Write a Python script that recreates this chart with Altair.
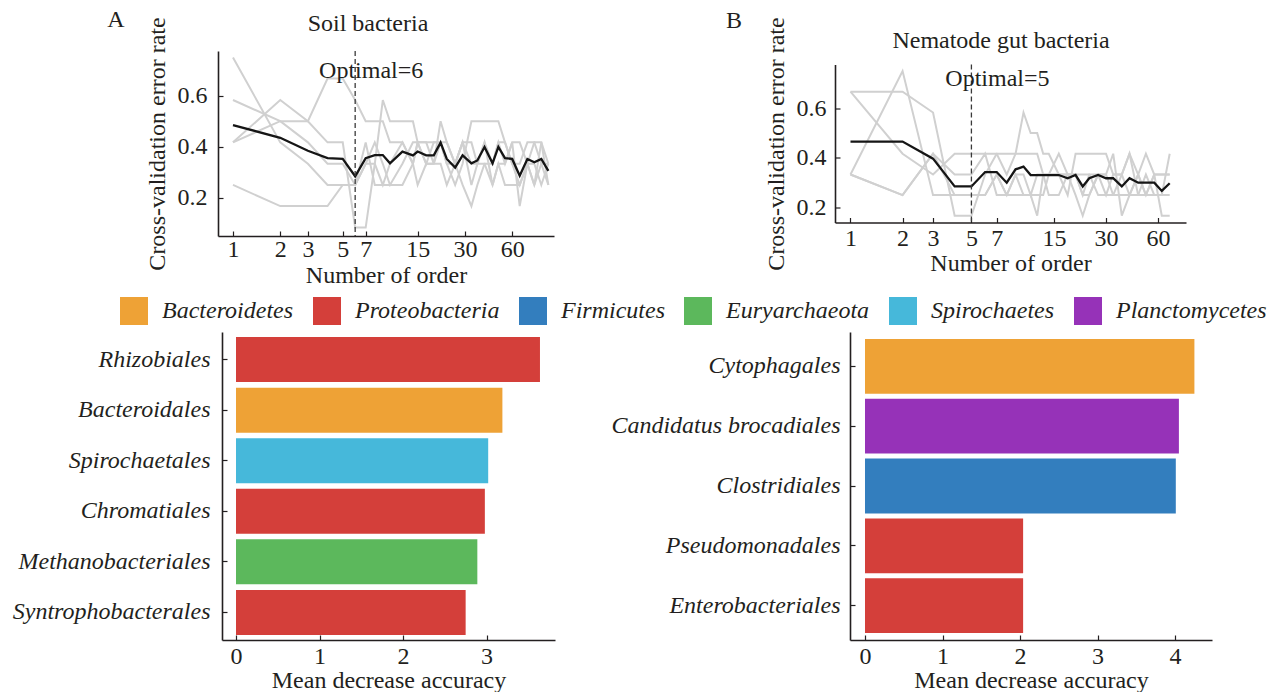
import altair as alt
import pandas as pd

FONT = "Liberation Serif"
INK = "#231f20"

# ---------------- Panel A: soil bacteria (rfcv curves) ----------------
a_order = [1, 2, 3, 4, 5, 6, 7, 8, 9, 10, 12, 14, 15, 17, 19, 21, 23, 26, 29, 33,
           36, 40, 45, 49, 54, 60, 67, 75, 83, 92, 102]
a_mean = [0.485, 0.435, 0.384, 0.355, 0.352, 0.284, 0.355, 0.367, 0.367, 0.335,
          0.381, 0.366, 0.381, 0.366, 0.366, 0.416, 0.352, 0.318, 0.366, 0.335,
          0.346, 0.399, 0.335, 0.399, 0.355, 0.352, 0.286, 0.352, 0.339, 0.352, 0.305]
a_run1 = [.75, .417, .333, .25, .25, .25, .333, .333, .25, .333, .417, .333, .417, .333,
          .417, .417, .417, .333, .417, .417, .333, .417, .333, .417, .417, .333, .25,
          .333, .417, .417, .25]
a_run2 = [.583, .5, .417, .333, .333, .25, .333, .417, .333, .25, .333, .417, .417, .417,
          .333, .5, .417, .333, .25, .167, .25, .333, .333, .417, .333, .417, .167, .333,
          .25, .333, .333]
a_run3 = [.417, .583, .5, .417, .417, .083, .083, .333, .583, .5, .5, .5, .417, .417,
          .417, .417, .333, .25, .333, .5, .5, .5, .5, .5, .417, .333, .333, .417, .417,
          .333, .25]
a_run4 = [.417, .5, .5, .667, .667, .583, .5, .5, .5, .417, .417, .333, .25, .333, .333,
          .417, .333, .333, .417, .25, .333, .417, .25, .333, .333, .417, .417, .333, .25,
          .417, .333]
a_run5 = [.25, .167, .167, .167, .25, .25, .417, .25, .25, .25, .25, .333, .417, .333,
          .333, .333, .25, .333, .417, .333, .333, .333, .25, .333, .25, .25, .25, .333,
          .333, .25, .333]
a_optimal = 6

# ---------------- Panel B: nematode gut bacteria ----------------
b_order = [1, 2, 3, 4, 5, 6, 7, 8, 9, 10, 11, 12, 13, 14, 16, 18, 20, 22, 24, 27, 30,
           33, 37, 41, 46, 51, 57, 63, 70]
b_mean = [0.466, 0.466, 0.397, 0.285, 0.285, 0.343, 0.343, 0.300, 0.354, 0.365, 0.331,
          0.331, 0.331, 0.331, 0.331, 0.318, 0.331, 0.285, 0.318, 0.331, 0.318, 0.318,
          0.285, 0.318, 0.300, 0.300, 0.300, 0.267, 0.298]
b_run1 = [.667, .667, .583, .167, .167, .333, .417, .417, .417, .583, .5, .5, .417, .417,
          .333, .25, .417, .417, .417, .417, .417, .333, .333, .417, .333, .25, .25, .25, .25]
b_run2 = [.333, .75, .25, .25, .25, .25, .333, .25, .25, .25, .25, .25, .25, .333, .417,
          .333, .25, .167, .25, .333, .333, .417, .167, .25, .333, .417, .333, .167, .167]
b_run3 = [.667, .417, .333, .417, .417, .417, .417, .333, .417, .417, .417, .417, .333,
          .25, .25, .333, .333, .333, .333, .25, .25, .25, .333, .417, .25, .25, .333,
          .333, .333]
b_run4 = [.333, .25, .417, .333, .333, .417, .25, .25, .333, .333, .25, .333, .333, .333,
          .333, .333, .333, .25, .333, .333, .25, .333, .333, .25, .25, .333, .25, .25, .417]
b_run5 = [.333, .25, .417, .25, .25, .25, .333, .25, .333, .25, .25, .167, .333, .333,
          .333, .333, .333, .25, .25, .333, .333, .25, .25, .25, .333, .25, .333, .333, .333]
b_optimal = 5

x_tick_values = [1, 2, 3, 5, 7, 15, 30, 60]
y_tick_values = [0.2, 0.4, 0.6]

# ---------------- Bar panels ----------------
phyla = ["Bacteroidetes", "Proteobacteria", "Firmicutes", "Euryarchaeota",
         "Spirochaetes", "Planctomycetes"]
phyla_colors = ["#eea236", "#d43f3a", "#337ebe", "#5cb85c", "#46b8da", "#9632b8"]

soil_orders = ["Rhizobiales", "Bacteroidales", "Spirochaetales", "Chromatiales",
               "Methanobacteriales", "Syntrophobacterales"]
soil_mda = [3.64, 3.19, 3.02, 2.98, 2.89, 2.75]
soil_phylum = ["Proteobacteria", "Bacteroidetes", "Spirochaetes", "Proteobacteria",
               "Euryarchaeota", "Proteobacteria"]

gut_orders = ["Cytophagales", "Candidatus brocadiales", "Clostridiales",
              "Pseudomonadales", "Enterobacteriales"]
gut_mda = [4.25, 4.05, 4.01, 2.04, 2.04]
gut_phylum = ["Bacteroidetes", "Planctomycetes", "Firmicutes", "Proteobacteria",
              "Proteobacteria"]

INWARD = {"expr": "-5"}


def runs_frame(order, runs):
    rows = []
    for r, vals in enumerate(runs):
        for o, v in zip(order, vals):
            rows.append({"order": o, "error": v, "run": "run%d" % (r + 1)})
    return pd.DataFrame(rows)


def label_layer(text, x, y):
    return alt.Chart(pd.DataFrame({"t": [text]})).mark_text(
        font=FONT, fontSize=24, color=INK, align="center", baseline="alphabetic").encode(
        text="t:N", x=alt.value(x), y=alt.value(y))


def line_panel(order, runs, mean, optimal, title, tag, c):
    runs_df = runs_frame(order, runs)
    mean_df = pd.DataFrame({"order": order, "error": mean})
    xs = alt.Scale(type="log", domain=c["xdom"], range=c["xrange"], nice=False)
    ys = alt.Scale(domain=c["ydom"], nice=False, zero=False)
    xax = alt.Axis(values=x_tick_values, format="d", title="Number of order",
                   tickSize=INWARD, labelPadding=c["xlp"], titlePadding=c["xtp"],
                   labelFlush=False, labelOverlap=False)
    yax = alt.Axis(values=y_tick_values, format=".1f", title="Cross-validation error rate",
                   offset=c["yoff"], tickSize=INWARD, labelPadding=c["ylp"],
                   titlePadding=c["ytp"])
    x = alt.X("order:Q", scale=xs, axis=xax)
    y = alt.Y("error:Q", scale=ys, axis=yax)
    gray = alt.Chart(runs_df).mark_line(color="#d0d0d0", strokeWidth=2).encode(
        x=x, y=y, detail="run:N")
    black = alt.Chart(mean_df).mark_line(color="#151515", strokeWidth=2.3).encode(
        x="order:Q", y="error:Q")
    opt_df = pd.DataFrame({"order": [optimal], "error": [c["opt_y"]],
                           "label": ["Optimal=%d" % optimal]})
    rule = alt.Chart(opt_df).mark_rule(color="#3a3a3a", strokeWidth=1.3,
                                       strokeDash=[5, 3]).encode(x="order:Q")
    opt_text = alt.Chart(opt_df).mark_text(font=FONT, fontSize=24, color=INK,
                                           align="center", baseline="alphabetic",
                                           dx=c["opt_dx"]).encode(
        x="order:Q", y="error:Q", text="label:N")
    return alt.layer(gray, black, rule, opt_text,
                     label_layer(tag, c["tagx"], c["tagy"]),
                     label_layer(title, c["titx"], c["tity"])).properties(
        width=c["w"], height=c["h"])


def bar_panel(labels, values, groups, c, legend):
    df = pd.DataFrame({"taxon": labels, "mda": values, "phylum": groups})
    return alt.Chart(df).mark_bar().encode(
        x=alt.X("mda:Q", scale=alt.Scale(domain=c["xdom"], nice=False, zero=False),
                axis=alt.Axis(values=c["ticks"], format="d",
                              title="Mean decrease accuracy", tickSize=INWARD,
                              labelPadding=c["xlp"], titlePadding=c["xtp"],
                              labelFlush=False)),
        x2=alt.datum(0),
        y=alt.Y("taxon:N", sort=labels,
                scale=alt.Scale(paddingInner=c["pi"], paddingOuter=c["po"]),
                axis=alt.Axis(title=None, labelFontStyle="italic", tickSize=INWARD,
                              labelPadding=c["ylp"], labelLimit=400)),
        color=alt.Color("phylum:N", scale=alt.Scale(domain=phyla, range=phyla_colors),
                        legend=legend),
    ).properties(width=c["w"], height=c["h"])


legend = alt.Legend(orient="none", legendX=-102, legendY=246, direction="horizontal",
                    title=None, symbolType="square", symbolSize=784,
                    symbolStrokeWidth=0, symbolOpacity=1, labelFontSize=24,
                    labelFont=FONT, labelFontStyle="italic", labelColor=INK,
                    labelOffset=14, columnPadding=19, padding=0, labelLimit=400)

line_a = line_panel(a_order, [a_run1, a_run2, a_run3, a_run4, a_run5], a_mean, a_optimal,
                    "Soil bacteria", "A",
                    dict(w=332, h=185, xdom=[0.8027, 110.8], xrange=[-4, 332],
                         ydom=[0.0498, 0.7753], yoff=4, xlp=6, xtp=2, ylp=16, ytp=8,
                         opt_y=0.669, opt_dx=16, tagx=-106, tagy=-24,
                         titx=146, tity=-20))
line_b = line_panel(b_order, [b_run1, b_run2, b_run3, b_run4, b_run5], b_mean, b_optimal,
                    "Nematode gut bacteria", "B",
                    dict(w=336, h=158, xdom=[0.8137, 86.96], xrange=[-15, 336],
                         ydom=[0.1396, 0.7767], yoff=15, xlp=9, xtp=1, ylp=14, ytp=8,
                         opt_y=0.689, opt_dx=26, tagx=-116, tagy=-37,
                         titx=151, tity=-17))
bar_a = bar_panel(soil_orders, soil_mda, soil_phylum,
                  dict(w=333, h=308, xdom=[-0.1677, 3.82], ticks=[0, 1, 2, 3],
                       xlp=9, xtp=0, ylp=17, pi=0.11, po=0.1), legend)
bar_b = bar_panel(gut_orders, gut_mda, gut_phylum,
                  dict(w=362, h=308, xdom=[-0.1935, 4.477], ticks=[0, 1, 2, 3, 4],
                       xlp=9, xtp=0, ylp=15, pi=0.083, po=0.115), legend)

chart = alt.concat(line_a, line_b, bar_a, bar_b, columns=2,
                   spacing={"row": 96, "column": 295}, bounds="flush",
                   center={"row": True, "column": False}).properties(
    padding={"left": 4, "top": 0, "right": 0, "bottom": 0}
).configure(font=FONT).configure_view(stroke=None).configure_axis(
    labelFont=FONT, labelFontSize=24, labelColor=INK, titleFont=FONT, titleFontSize=24,
    titleFontWeight="normal", titleColor=INK, domainColor=INK, domainWidth=1.6,
    tickColor=INK, tickWidth=1.2, grid=False)

chart.save("out.html", embed_options={"renderer": "svg", "actions": False})
